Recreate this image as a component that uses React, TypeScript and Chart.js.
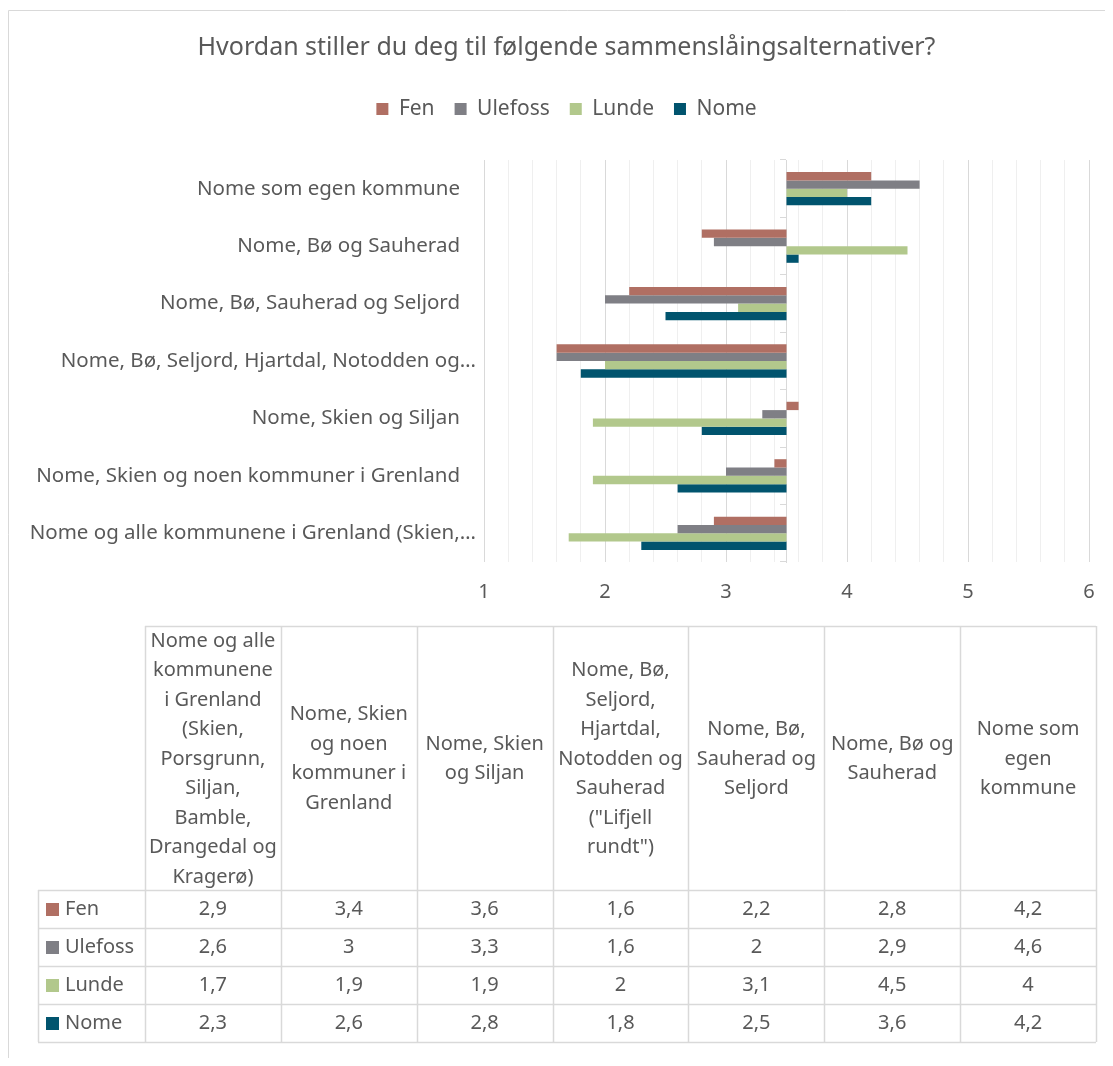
import React, { useEffect, useRef } from 'react';
import { Chart, registerables } from 'chart.js';

Chart.register(...registerables);

const FONT = "'Noto Sans', 'Open Sans', sans-serif";
const TEXT = '#595959';
const LINE = '#d9d9d9';

const chartTitle = 'Hvordan stiller du deg til følgende sammenslåingsalternativer?';

const categories = [
  'Nome og alle kommunene i Grenland (Skien, Porsgrunn, Siljan, Bamble, Drangedal og Kragerø)',
  'Nome, Skien og noen kommuner i Grenland',
  'Nome, Skien og Siljan',
  'Nome, Bø, Seljord, Hjartdal, Notodden og Sauherad ("Lifjell rundt")',
  'Nome, Bø, Sauherad og Seljord',
  'Nome, Bø og Sauherad',
  'Nome som egen kommune',
];

const axisLabels = [
  'Nome og alle kommunene i Grenland (Skien,…',
  'Nome, Skien og noen kommuner i Grenland',
  'Nome, Skien og Siljan',
  'Nome, Bø, Seljord, Hjartdal, Notodden og…',
  'Nome, Bø, Sauherad og Seljord',
  'Nome, Bø og Sauherad',
  'Nome som egen kommune',
];

const headerLines = [
  ['Nome og alle', 'kommunene', 'i Grenland', '(Skien,', 'Porsgrunn,', 'Siljan,', 'Bamble,', 'Drangedal og', 'Kragerø)'],
  ['Nome, Skien', 'og noen', 'kommuner i', 'Grenland'],
  ['Nome, Skien', 'og Siljan'],
  ['Nome, Bø,', 'Seljord,', 'Hjartdal,', 'Notodden og', 'Sauherad', '("Lifjell', 'rundt")'],
  ['Nome, Bø,', 'Sauherad og', 'Seljord'],
  ['Nome, Bø og', 'Sauherad'],
  ['Nome som', 'egen', 'kommune'],
];

const seriesNames = ['Fen', 'Ulefoss', 'Lunde', 'Nome'];
const fen = [2.9, 3.4, 3.6, 1.6, 2.2, 2.8, 4.2];
const ulefoss = [2.6, 3, 3.3, 1.6, 2, 2.9, 4.6];
const lunde = [1.7, 1.9, 1.9, 2, 3.1, 4.5, 4];
const nome = [2.3, 2.6, 2.8, 1.8, 2.5, 3.6, 4.2];
const seriesValues = [fen, ulefoss, lunde, nome];
const seriesColors = ['#B06F63', '#7F7F85', '#B2C88C', '#01546E'];

const axisMin = 1;
const axisMax = 6;
const gridStep = 0.2;
const axisCross = 3.5;

function fmt(v: number) {
  return String(v).replace('.', ',');
}

function isInt(v: number) {
  return Math.abs(v - Math.round(v)) < 1e-6;
}

const tablePlugin = {
  id: 'excelTable',
  afterLayout(chart: any) {
    // let the long category labels extend into the left padding
    const s = chart.scales.y;
    if (s) s.left = 0;
  },
  afterDraw(chart: any) {
    const ctx = chart.ctx as CanvasRenderingContext2D;
    const W = chart.width;
    const H = chart.height;
    ctx.save();
    ctx.strokeStyle = LINE;
    ctx.lineWidth = 1;
    // outer chart frame (top & left visible)
    ctx.beginPath();
    ctx.moveTo(0.5, H);
    ctx.lineTo(0.5, 2.5);
    ctx.lineTo(W, 2.5);
    ctx.stroke();

    const labels = chart.data.labels as string[];
    const ds = chart.data.datasets;
    const n = labels.length;
    const legendLeft = 30;
    const colLeft = 137;
    const colRight = 1088;
    const headTop = 618;
    const headBottom = 882;
    const headMid = 751;
    const lineGap = 29.5;
    const rowH = 38;
    const colW = (colRight - colLeft) / n;
    const tableBottom = headBottom + rowH * ds.length;

    ctx.lineWidth = 1.5;
    ctx.beginPath();
    ctx.moveTo(colLeft, headTop + 0.5);
    ctx.lineTo(colRight, headTop + 0.5);
    for (let r = 0; r <= ds.length; r++) {
      const y = Math.round(headBottom + r * rowH) + 0.5;
      ctx.moveTo(legendLeft, y);
      ctx.lineTo(colRight, y);
    }
    ctx.moveTo(legendLeft + 0.5, headBottom);
    ctx.lineTo(legendLeft + 0.5, tableBottom);
    for (let c = 0; c <= n; c++) {
      const x = Math.round(colLeft + c * colW) + 0.5;
      ctx.moveTo(x, headTop);
      ctx.lineTo(x, tableBottom);
    }
    ctx.stroke();

    ctx.font = `20px ${FONT}`;
    ctx.fillStyle = TEXT;
    ctx.textBaseline = 'middle';
    ctx.textAlign = 'center';
    for (let c = 0; c < n; c++) {
      const cx = colLeft + (c + 0.5) * colW;
      const lines = headerLines[c];
      lines.forEach((t, j) => {
        ctx.fillText(t, cx, headMid + (j - (lines.length - 1) / 2) * lineGap);
      });
    }
    ds.forEach((d: any, r: number) => {
      const cy = headBottom + (r + 0.5) * rowH;
      ctx.fillStyle = d.backgroundColor;
      ctx.fillRect(38, Math.round(cy - 6.5), 13, 13);
      ctx.fillStyle = TEXT;
      ctx.textAlign = 'left';
      ctx.fillText(d.label, 57, cy);
      ctx.textAlign = 'center';
      (d.data as number[]).forEach((v, c) => {
        ctx.fillText(fmt(v), colLeft + (c + 0.5) * colW, cy);
      });
    });
    ctx.restore();
  },
};

export default function App() {
  const ref = useRef<HTMLCanvasElement>(null);
  useEffect(() => {
    const chart = new Chart(ref.current as HTMLCanvasElement, {
      type: 'bar',
      data: {
        labels: categories,
        datasets: seriesNames.map((name, i) => ({
          label: name,
          data: seriesValues[i],
          backgroundColor: seriesColors[i],
          borderWidth: 0,
          base: axisCross,
          categoryPercentage: 0.58,
          barPercentage: 1,
          xAxisID: 'x',
          yAxisID: 'y',
        })),
      },
      options: {
        responsive: false,
        animation: false,
        indexAxis: 'y',
        layout: { padding: { top: 0, left: 36, right: 37, bottom: 446 } },
        plugins: {
          title: {
            display: true,
            text: chartTitle,
            color: TEXT,
            font: { family: FONT, size: 25, weight: 'normal' },
            padding: { top: 25, bottom: 15.5 },
          },
          legend: {
            display: true,
            position: 'top',
            labels: {
              color: TEXT,
              font: { family: FONT, size: 21 },
              boxWidth: 12,
              boxHeight: 12,
              padding: 20,
            },
          },
          tooltip: { enabled: false },
        },
        scales: {
          x: {
            type: 'linear',
            position: 'bottom',
            min: axisMin,
            max: axisMax,
            afterFit: (s: any) => {
              s.height = 50;
            },
            ticks: {
              stepSize: gridStep,
              autoSkip: false,
              maxRotation: 0,
              padding: 18,
              color: TEXT,
              font: { family: FONT, size: 20 },
              callback: (v: any) => (isInt(Number(v)) ? String(Math.round(Number(v))) : ''),
            },
            grid: {
              drawTicks: false,
              color: (c: any) => (c.tick && isInt(c.tick.value) ? '#d9d9d9' : '#efefef'),
              lineWidth: 1,
            },
            border: { display: false },
          },
          xTop: {
            type: 'linear',
            position: 'top',
            afterFit: (s: any) => {
              s.height = 30.5;
            },
            ticks: { display: false },
            grid: { display: false, drawTicks: false },
            border: { display: false },
          },
          y: {
            type: 'category',
            position: 'left',
            reverse: true,
            afterFit: (s: any) => {
              s.width = 440;
            },
            ticks: {
              padding: 0,
              color: TEXT,
              autoSkip: false,
              font: { family: FONT, size: 20.5 },
              callback: (v: any) => {
                const s = axisLabels[Number(v)];
                return s.endsWith('…') ? s : s + '   ';
              },
            },
            grid: { display: false },
            border: { display: false },
          },
          yCross: {
            type: 'category',
            axis: 'y',
            position: { x: axisCross },
            reverse: true,
            offset: true,
            ticks: { display: false },
            grid: {
              display: true,
              offset: true,
              drawOnChartArea: false,
              drawTicks: true,
              tickLength: 6,
              color: LINE,
            },
            border: { display: true, color: LINE, width: 1 },
          },
        },
      } as any,
      plugins: [tablePlugin],
    });
    return () => chart.destroy();
  }, []);
  return (
    <div style={{ width: 1105, height: 1050, overflow: 'hidden' }}>
      <canvas ref={ref} width={1118} height={1050} style={{ display: 'block' }} />
    </div>
  );
}
